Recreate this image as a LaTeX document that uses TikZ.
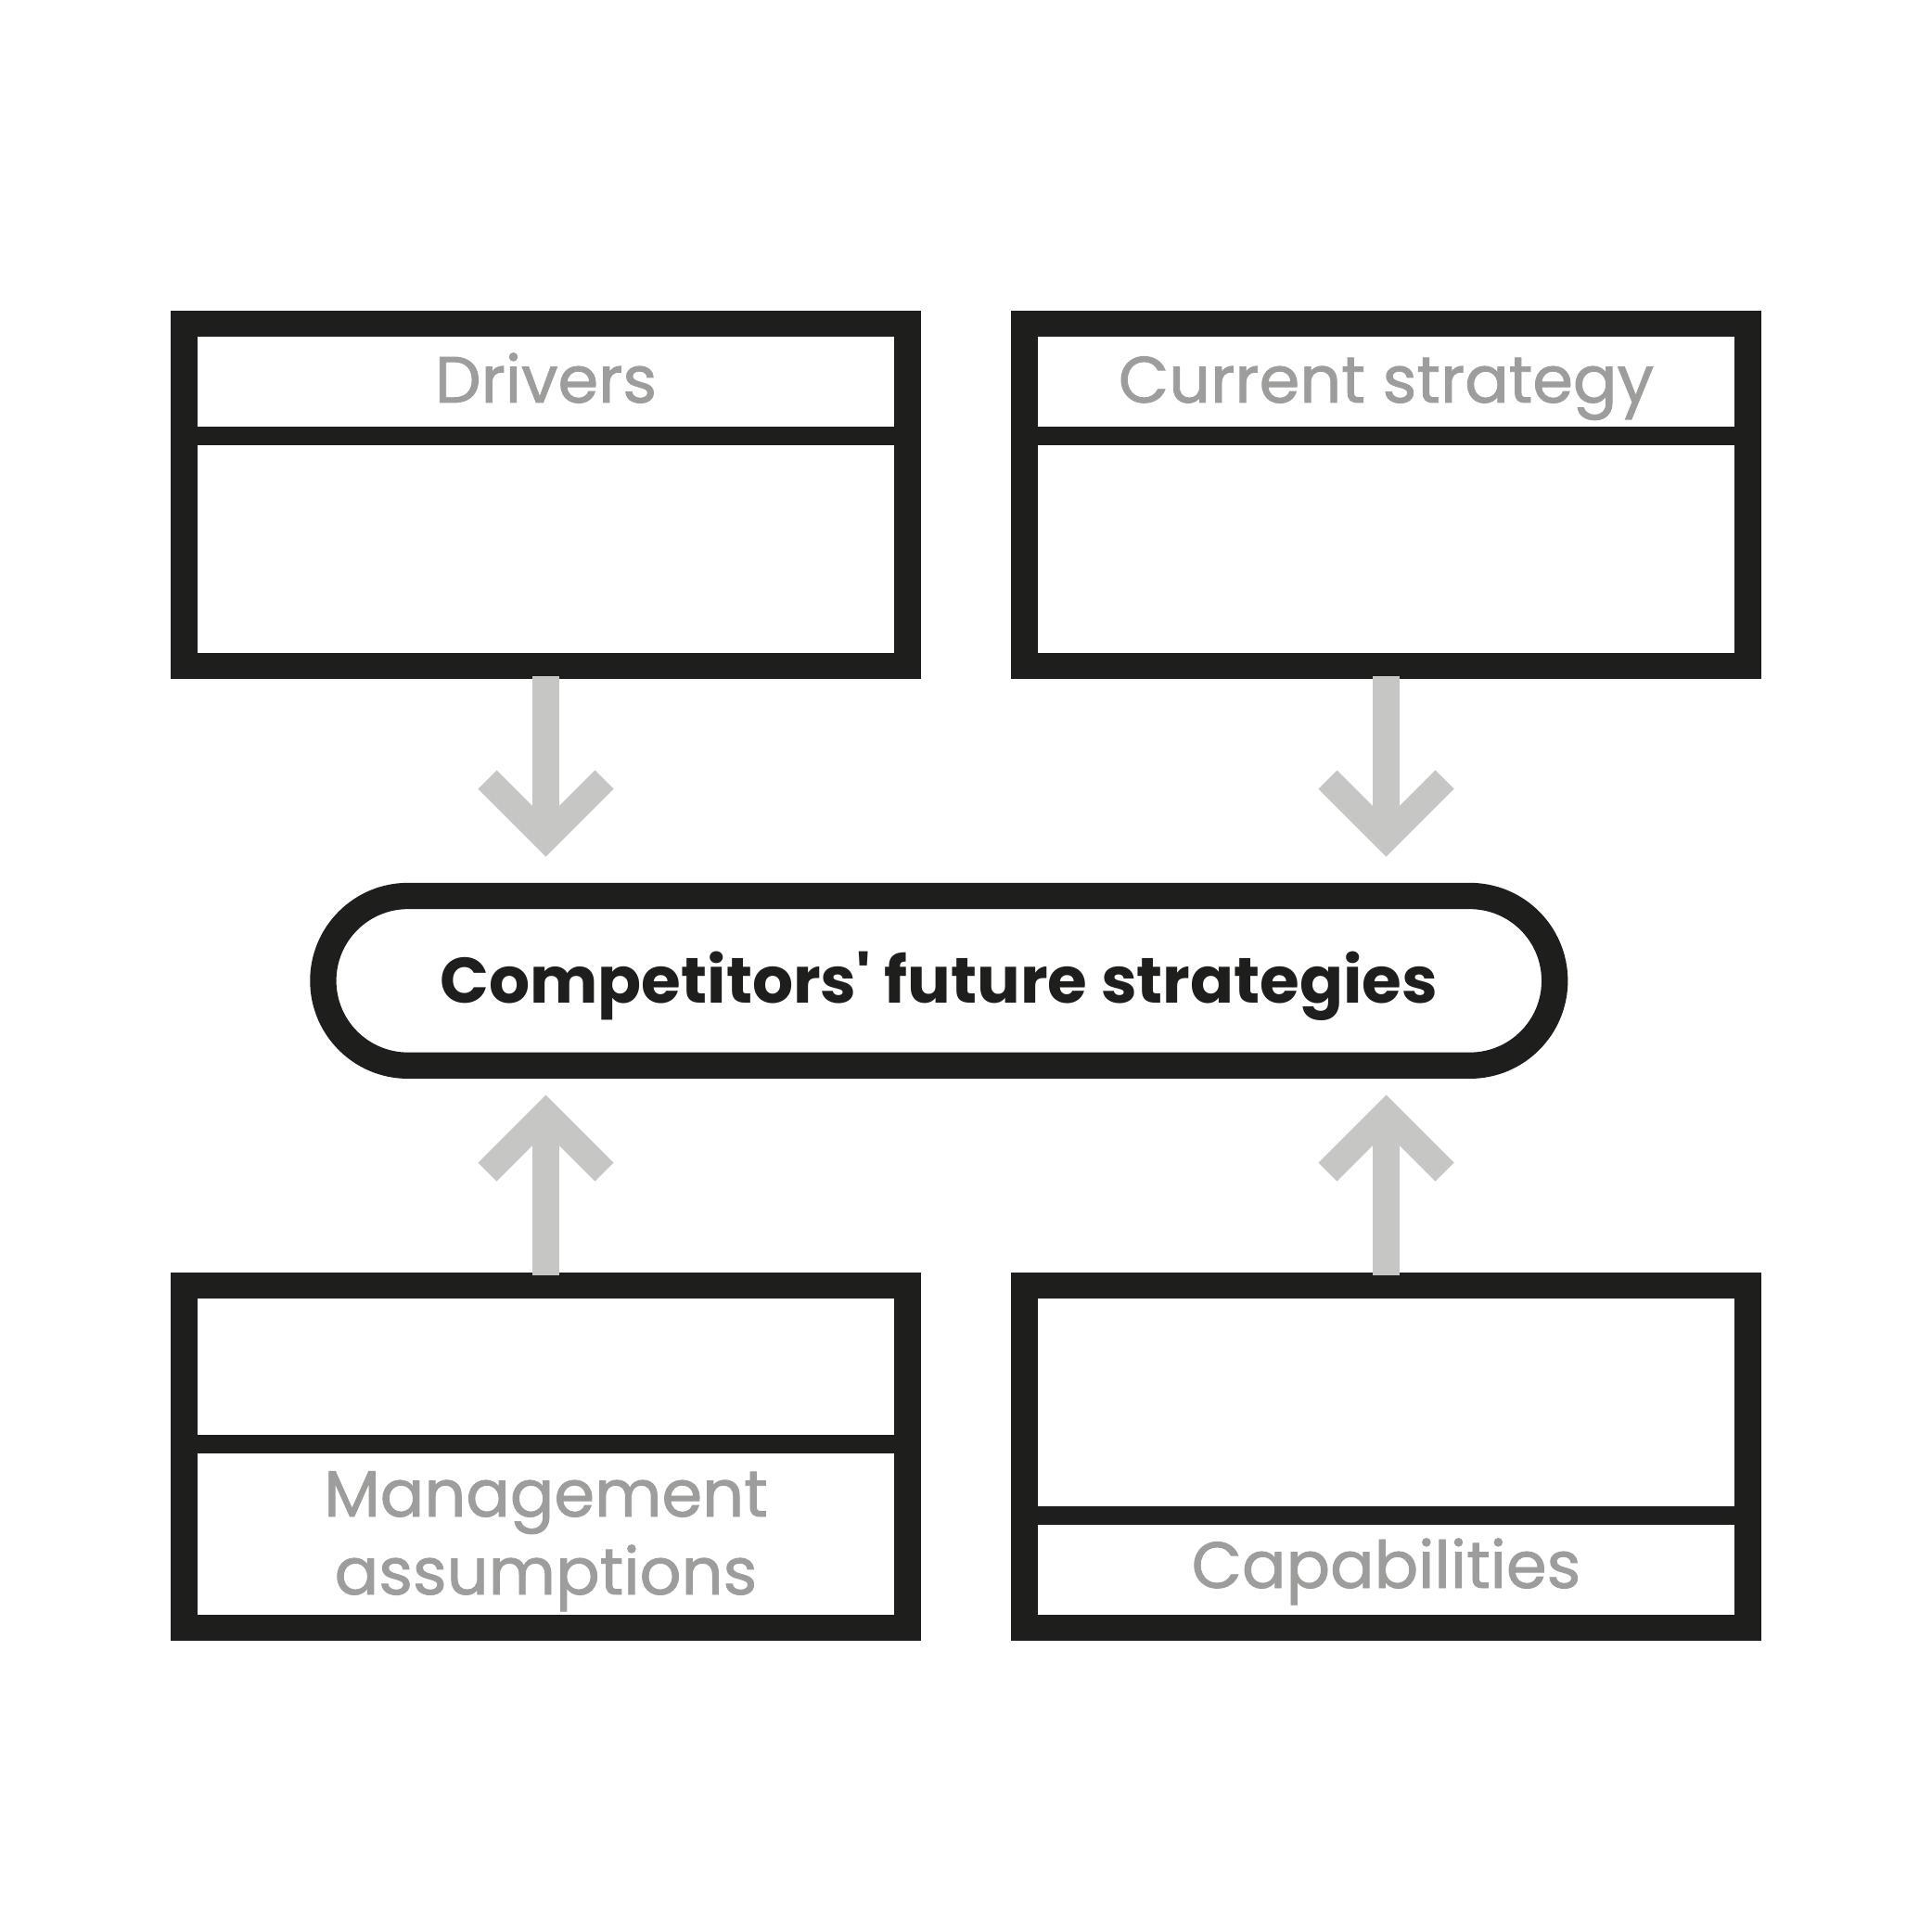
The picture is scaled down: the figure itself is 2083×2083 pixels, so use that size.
\documentclass[tikz,border=0pt]{standalone}
\usepackage{fontspec}
\setmainfont{Poppins}
\newfontfamily\lblfont{Poppins}[FakeBold=1.2]
\newfontfamily\futfont{Poppins}
\usetikzlibrary{calc}
\definecolor{ink}{HTML}{1E1E1C}
\definecolor{arrowgray}{HTML}{C6C6C5}
\definecolor{labelgray}{HTML}{9D9D9C}
\begin{document}
\begin{tikzpicture}[x=0.01cm,y=-0.01cm,
  box/.style={draw=ink,line width=8.05pt,rectangle,minimum width=7.794cm,minimum height=3.69cm,inner sep=0pt,outer sep=0pt},
  divider/.style={draw=ink,line width=5.69pt},
  pillbox/.style={draw=ink,line width=8.05pt,rectangle,rounded corners=0.9135cm,minimum width=13.27cm,minimum height=1.827cm,inner sep=0pt,outer sep=0pt,text=ink,font=\futfont\fontsize{19.7}{24}\selectfont\bfseries,text height=13.8pt,text depth=0pt},
  lbl/.style={text=labelgray,font=\lblfont\fontsize{20}{24}\selectfont,anchor=base,inner sep=0pt},
  arrowline/.style={draw=arrowgray,line width=8.08pt,line join=miter,line cap=butt}
]
\useasboundingbox[fill=white] (0,0) rectangle (2083,2083);

% boxes
\node[box] (drv) at (588.5,533.7) {};
\node[box] (cur) at (1494.5,533.7) {};
\node[box] (mgt) at (588.5,1570.7) {};
\node[box] (cap) at (1494.5,1570.7) {};

% dividers
\draw[divider] (drv.west |- 0,470) -- (drv.east |- 0,470);
\draw[divider] (cur.west |- 0,470) -- (cur.east |- 0,470);
\draw[divider] (mgt.west |- 0,1557.3) -- (mgt.east |- 0,1557.3);
\draw[divider] (cap.west |- 0,1634) -- (cap.east |- 0,1634);

% labels
\node[lbl] (drvt) at (588.5,434) {Drivers};
\node[lbl] (curt) at (1494.5,434) {Current strategy};
\node[lbl] (mgtt1) at (588.5,1635) {Management};
\node[lbl] (mgtt2) at (588.5,1719) {assumptions};
\node[lbl] (capt) at (1494.5,1712) {Capabilities};

% central pill
\node[pillbox] (fut) at (1012.3,1057.4) {Competitors' future strategies};

% arrows
\coordinate (t1) at ($(drv.south |- fut.north)+(0,-62.5)$);
\coordinate (t2) at ($(cur.south |- fut.north)+(0,-62.5)$);
\coordinate (t3) at ($(mgt.north |- fut.south)+(0,51.8)$);
\coordinate (t4) at ($(cap.north |- fut.south)+(0,51.8)$);

\draw[arrowline] ($(drv.south)+(0,10.8)$) -- (t1);
\draw[arrowline] ($(t1)+(-63,-63)$) -- (t1) -- ($(t1)+(63,-63)$);
\draw[arrowline] ($(cur.south)+(0,10.8)$) -- (t2);
\draw[arrowline] ($(t2)+(-63,-63)$) -- (t2) -- ($(t2)+(63,-63)$);
\draw[arrowline] ($(mgt.north)+(0,-10.8)$) -- (t3);
\draw[arrowline] ($(t3)+(-63,63)$) -- (t3) -- ($(t3)+(63,63)$);
\draw[arrowline] ($(cap.north)+(0,-10.8)$) -- (t4);
\draw[arrowline] ($(t4)+(-63,63)$) -- (t4) -- ($(t4)+(63,63)$);
\end{tikzpicture}
\end{document}
